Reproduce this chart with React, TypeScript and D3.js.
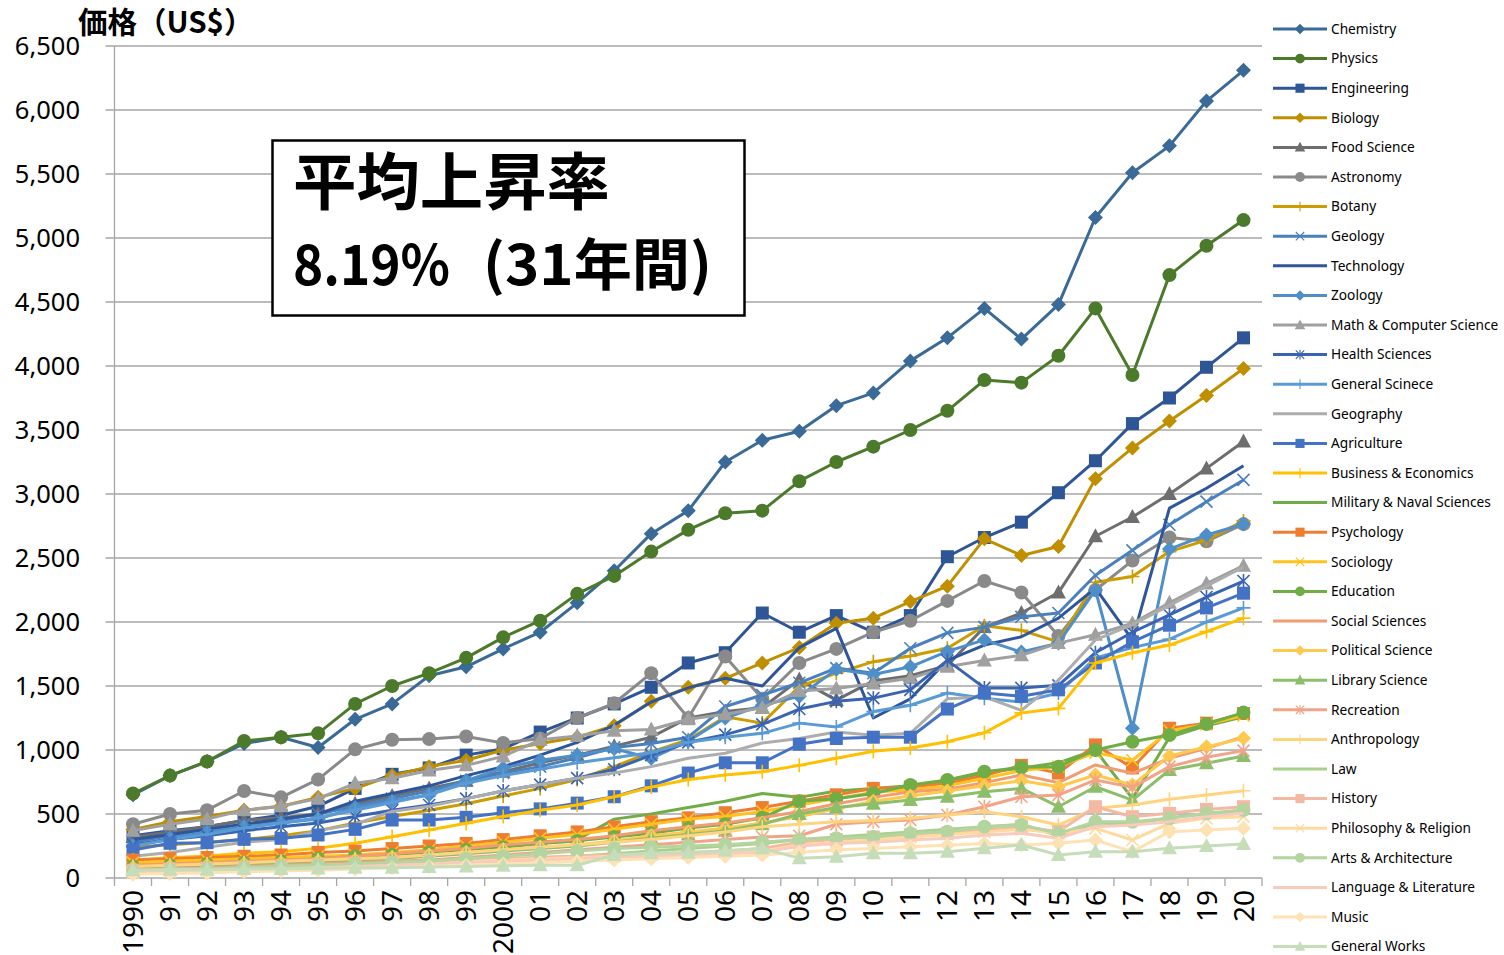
import React from "react";
import * as d3 from "d3";

const years = ["1990","91","92","93","94","95","96","97","98","99","2000","01","02","03","04","05","06","07","08","09","10","11","12","13","14","15","16","17","18","19","20"];
const yTicks = [0,500,1000,1500,2000,2500,3000,3500,4000,4500,5000,5500,6000,6500];

const chemistry = [650,800,910,1050,1100,1020,1240,1360,1580,1650,1790,1920,2150,2400,2690,2870,3250,3420,3490,3690,3790,4040,4220,4450,4210,4480,5160,5510,5720,6070,6310];
const physics = [660,800,910,1070,1100,1130,1360,1500,1600,1720,1880,2010,2220,2360,2550,2720,2850,2870,3100,3250,3370,3500,3650,3890,3870,4080,4450,3930,4710,4940,5140];
const engineering = [330,370,400,450,490,560,700,810,860,960,1010,1140,1250,1360,1490,1680,1760,2070,1920,2050,1920,2050,2510,2660,2780,3010,3260,3550,3750,3990,4220];
const biology = [380,440,480,530,560,630,700,800,870,920,1000,1050,1100,1190,1380,1490,1560,1680,1800,1990,2030,2160,2280,2650,2520,2590,3120,3360,3570,3770,3980];
const foodScience = [320,360,400,450,470,500,580,640,700,760,830,900,960,1030,1100,1250,1300,1330,1550,1390,1540,1580,1660,1960,2070,2230,2670,2820,3000,3200,3410];
const astronomy = [420,500,530,680,630,770,1005,1080,1085,1105,1055,1090,1250,1365,1600,1250,1730,1400,1680,1790,1920,2010,2165,2320,2230,1890,2250,2480,2660,2630,2765];
const botany = [240,260,280,300,330,370,430,480,530,580,640,700,770,870,985,1080,1260,1210,1495,1600,1690,1735,1795,1970,1935,1845,2310,2355,2550,2640,2790];
const geology = [280,330,380,420,450,500,560,620,680,760,820,870,940,1020,1050,1100,1340,1430,1525,1640,1600,1795,1915,1960,2040,2070,2365,2560,2760,2940,3110];
const technology = [300,340,380,420,460,500,600,660,720,800,870,960,1060,1195,1375,1485,1560,1500,1800,1950,1250,1400,1700,1820,1885,2030,2265,1860,2890,3045,3220];
const zoology = [250,310,360,400,430,460,550,600,650,760,860,920,960,1010,935,1070,1250,1350,1420,1630,1590,1650,1770,1860,1765,1835,2250,1170,2570,2680,2765];
const mathCS = [370,420,460,530,560,620,740,780,840,880,950,1080,1110,1150,1160,1240,1280,1330,1460,1480,1520,1560,1650,1700,1740,1835,1900,1990,2150,2300,2440];
const healthSciences = [260,300,330,370,400,430,480,530,570,620,680,730,780,850,960,1060,1120,1200,1320,1380,1405,1470,1700,1485,1485,1505,1760,1920,2055,2195,2320];
const generalScience = [250,300,340,390,430,470,530,590,650,740,800,850,900,940,980,1060,1100,1130,1210,1180,1300,1350,1445,1405,1375,1445,1720,1800,1865,2000,2110];
const geography = [170,200,240,280,300,370,420,520,560,620,680,730,780,820,870,935,975,1055,1090,1140,1115,1130,1400,1415,1310,1545,1860,1980,2130,2280,2430];
const agriculture = [219,271,276,302,310,336,380,453,453,474,510,540,585,635,720,820,900,900,1045,1090,1100,1100,1320,1445,1420,1470,1680,1845,1975,2110,2225];
const businessEconomics = [141,159,172,193,206,232,271,323,375,427,480,530,570,635,710,770,805,830,880,935,990,1015,1065,1135,1290,1325,1680,1760,1820,1925,2030];
const military = [110,120,130,140,150,160,170,190,210,230,250,280,300,460,500,550,600,660,630,680,700,720,760,820,860,900,1000,620,1100,1190,1260];
const psychology = [140,150,160,170,180,200,210,230,250,270,300,330,360,400,440,470,510,550,600,650,700,710,740,800,880,820,1040,860,1170,1210,1285];
const sociology = [120,130,140,150,160,170,180,200,220,250,280,310,340,380,420,460,480,520,570,620,670,690,720,780,840,870,980,920,1150,1200,1270];
const education = [90,100,110,120,130,150,170,180,200,220,240,270,290,320,350,390,420,470,600,620,660,726,766,831,865,870,1000,1065,1117,1203,1292];
const socialSciences = [100,110,120,130,140,150,170,190,210,230,260,280,300,330,370,400,430,470,520,580,630,674,693,745,805,745,883,818,935,1013,1104];
const politicalScience = [80,90,100,110,120,130,140,160,180,200,220,240,260,290,330,360,390,430,480,540,600,640,680,720,760,713,805,727,953,1026,1091];
const libraryScience = [70,80,90,100,110,120,130,150,170,190,210,230,250,280,310,340,370,420,500,550,580,609,635,674,700,557,713,609,844,896,953];
const recreation = [60,70,80,90,100,110,120,130,140,160,180,200,220,240,260,280,300,320,330,420,440,453,492,557,635,648,766,708,870,943,995];
const anthropology = [90,100,110,120,130,140,150,160,180,200,220,240,260,280,300,330,360,400,420,440,450,466,492,518,479,414,544,570,615,648,682];
const law = [50,60,70,80,90,100,110,120,130,140,150,160,170,190,210,230,250,270,300,320,340,360,380,400,420,330,430,420,470,500,530];
const history = [60,70,70,80,90,100,110,120,130,140,150,160,170,180,190,200,210,230,280,300,320,336,349,375,401,362,557,479,505,536,557];
const philosophy = [40,50,60,70,80,90,100,110,120,130,140,150,160,170,180,190,200,210,260,280,300,320,340,360,380,349,388,297,427,466,479];
const arts = [50,60,70,80,90,100,110,120,130,150,170,190,210,230,240,250,260,280,300,310,320,349,362,401,414,349,440,440,466,505,531];
const languageLit = [40,50,55,60,70,80,90,100,110,120,130,140,150,160,170,180,190,200,250,270,280,297,310,336,349,310,401,414,440,479,505];
const music = [30,35,40,50,55,60,70,80,90,100,110,120,130,140,150,160,170,180,200,220,230,245,255,270,258,271,297,206,362,375,388];
const generalWorks = [60,65,65,70,70,75,80,80,85,90,95,100,100,180,193,198,213,231,155,166,193,193,206,232,258,180,206,206,232,250,266];

type Marker = "diamond" | "circle" | "square" | "triangle" | "x" | "star" | "plus" | "none";
interface Series { name: string; values: number[]; color: string; marker: Marker; }

const series: Series[] = [
  { name: "Chemistry", values: chemistry, color: "#3A6A97", marker: "diamond" },
  { name: "Physics", values: physics, color: "#4B7A2B", marker: "circle" },
  { name: "Engineering", values: engineering, color: "#2E5596", marker: "square" },
  { name: "Biology", values: biology, color: "#BF8F00", marker: "diamond" },
  { name: "Food Science", values: foodScience, color: "#6E6E6E", marker: "triangle" },
  { name: "Astronomy", values: astronomy, color: "#8A8A8A", marker: "circle" },
  { name: "Botany", values: botany, color: "#CC9C00", marker: "plus" },
  { name: "Geology", values: geology, color: "#4A80BD", marker: "x" },
  { name: "Technology", values: technology, color: "#2F559A", marker: "none" },
  { name: "Zoology", values: zoology, color: "#4E8EC9", marker: "diamond" },
  { name: "Math & Computer Science", values: mathCS, color: "#A0A0A0", marker: "triangle" },
  { name: "Health Sciences", values: healthSciences, color: "#3864B2", marker: "star" },
  { name: "General Scinece", values: generalScience, color: "#5B9BD5", marker: "plus" },
  { name: "Geography", values: geography, color: "#ADADAD", marker: "none" },
  { name: "Agriculture", values: agriculture, color: "#4472C4", marker: "square" },
  { name: "Business & Economics", values: businessEconomics, color: "#FFC000", marker: "plus" },
  { name: "Military & Naval Sciences", values: military, color: "#70AD47", marker: "none" },
  { name: "Psychology", values: psychology, color: "#ED7D31", marker: "square" },
  { name: "Sociology", values: sociology, color: "#FFC21F", marker: "x" },
  { name: "Education", values: education, color: "#70AD47", marker: "circle" },
  { name: "Social Sciences", values: socialSciences, color: "#F19C73", marker: "none" },
  { name: "Political Science", values: politicalScience, color: "#FFC94F", marker: "diamond" },
  { name: "Library Science", values: libraryScience, color: "#8DBE6A", marker: "triangle" },
  { name: "Recreation", values: recreation, color: "#F2A488", marker: "star" },
  { name: "Anthropology", values: anthropology, color: "#FFD480", marker: "plus" },
  { name: "Law", values: law, color: "#A9D18E", marker: "none" },
  { name: "History", values: history, color: "#F4B9A2", marker: "square" },
  { name: "Philosophy & Religion", values: philosophy, color: "#FFDA9E", marker: "x" },
  { name: "Arts & Architecture", values: arts, color: "#B4D4A0", marker: "circle" },
  { name: "Language & Literature", values: languageLit, color: "#F8CBBD", marker: "none" },
  { name: "Music", values: music, color: "#FFE2B3", marker: "diamond" },
  { name: "General Works", values: generalWorks, color: "#C6DDBA", marker: "triangle" },
];

function markerEl(m: Marker, color: string, cx: number, cy: number, k: number, key: string) {
  const t = `translate(${cx},${cy}) scale(${k})`;
  switch (m) {
    case "diamond":
      return <path key={key} transform={t} d="M0,-7.5L7.5,0L0,7.5L-7.5,0Z" fill={color} />;
    case "circle":
      return <circle key={key} transform={t} r={7} fill={color} />;
    case "square":
      return <rect key={key} transform={t} x={-6.5} y={-6.5} width={13} height={13} fill={color} />;
    case "triangle":
      return <path key={key} transform={t} d="M0,-8L7.5,6L-7.5,6Z" fill={color} />;
    case "x":
      return <path key={key} transform={t} d="M-6,-6L6,6M-6,6L6,-6" stroke={color} strokeWidth={1.6} fill="none" />;
    case "star":
      return <path key={key} transform={t} d="M-6,-6L6,6M-6,6L6,-6M0,-7L0,7" stroke={color} strokeWidth={1.6} fill="none" />;
    case "plus":
      return <path key={key} transform={t} d="M-7,0L7,0M0,-7L0,7" stroke={color} strokeWidth={1.6} fill="none" />;
    default:
      return null;
  }
}

export default function App() {
  const W = 1504, H = 955;
  const left = 114.5, right = 1262, top = 46, bottom = 878;
  const x = d3.scaleBand<string>().domain(years).range([left, right]).padding(0);
  const y = d3.scaleLinear().domain([0, 6500]).range([bottom, top]);
  const cx = (d: string) => (x(d) as number) + x.bandwidth() / 2;
  const line = d3.line<number>().x((_, i) => cx(years[i])).y((v) => y(v));
  const fmt = d3.format(",");
  const gridColor = "#A6A6A6";
  const font = "'Noto Sans', 'Open Sans', sans-serif";
  const cjk = "'Noto Sans CJK JP', 'Noto Sans', sans-serif";

  return (
    <svg width={W} height={H} style={{ position: "absolute", left: 0, top: 0, background: "#fff" }}>
      <rect width={W} height={H} fill="#fff" />
      {yTicks.map((t) => (
        <g key={t}>
          <line x1={left - 9} x2={right} y1={y(t)} y2={y(t)} stroke={gridColor} strokeWidth={1.3} />
          <text x={80} y={y(t) + 9} textAnchor="end" fontFamily={font} fontSize={25.5} fill="#000">{fmt(t)}</text>
        </g>
      ))}
      <line x1={left} x2={left} y1={top} y2={bottom} stroke={gridColor} strokeWidth={1.3} />
      {years.map((yr) => (
        <line key={"t" + yr} x1={x(yr) as number} x2={x(yr) as number} y1={bottom} y2={bottom + 8} stroke={gridColor} strokeWidth={1.3} />
      ))}
      <line x1={right} x2={right} y1={bottom} y2={bottom + 8} stroke={gridColor} strokeWidth={1.3} />
      {years.map((yr) => (
        <text key={"l" + yr} transform={`translate(${cx(yr)},${bottom + 12}) rotate(-90)`} dy="0.36em" textAnchor="end" fontFamily={font} fontSize={28} fill="#000">{yr}</text>
      ))}
      <text x={78} y={33} fontFamily={cjk} fontWeight={700} fontSize={29.5} fill="#000">価格（US$）</text>

      {series.map((s, si) => (
        <g key={s.name}>
          <path d={line(s.values) || ""} fill="none" stroke={s.color} strokeWidth={3} strokeLinejoin="round" />
          {s.values.map((v, i) => markerEl(s.marker, s.color, cx(years[i]), y(v), 1, `${si}-${i}`))}
        </g>
      ))}

      <rect x={272.5} y={140.5} width={472} height={175} fill="#fff" stroke="#000" strokeWidth={2.5} />
      <text x={293} y={205} fontFamily={cjk} fontWeight={700} fontSize={62} textLength={317} lengthAdjust="spacingAndGlyphs" fill="#000">平均上昇率</text>
      <text x={293} y={285} fontFamily={cjk} fontWeight={700} fontSize={56} textLength={157} lengthAdjust="spacingAndGlyphs" fill="#000">8.19%</text>
      <text x={483} y={285} fontFamily={cjk} fontWeight={700} fontSize={56} textLength={229} lengthAdjust="spacingAndGlyphs" fill="#000">(31年間)</text>

      {series.map((s, i) => {
        const ly = 29 + i * 29.6;
        return (
          <g key={"lg" + s.name}>
            <line x1={1273} x2={1327} y1={ly} y2={ly} stroke={s.color} strokeWidth={3} />
            {markerEl(s.marker, s.color, 1300, ly, 0.7, "lm" + i)}
            <text x={1331} y={ly} dy="0.35em" fontFamily={font} fontSize={13.7} fill="#000">{s.name}</text>
          </g>
        );
      })}
    </svg>
  );
}
